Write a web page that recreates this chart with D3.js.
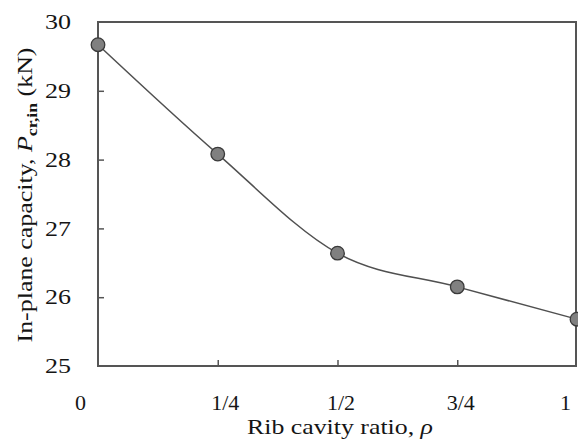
<!DOCTYPE html>
<html>
<head>
<meta charset="utf-8">
<script src="https://cdn.jsdelivr.net/npm/d3@7"></script>
<style>
  body { margin: 0; background: #fff; }
  svg { display: block; }
</style>
</head>
<body>
<div id="chart"></div>
<script>
'use strict';

// data
const rho_values = [0, 0.25, 0.5, 0.75, 1];
const capacity_kN = [29.67, 28.08, 26.64, 26.15, 25.68];
const x_tick_labels = ['0', '1/4', '1/2', '3/4', '1'];
const y_tick_values = [25, 26, 27, 28, 29, 30];

const dims = {
  width: 578,
  height: 442,
  margin: { top: 22, right: 1, bottom: 76, left: 98 }
};
dims.ctrWidth = dims.width - dims.margin.left - dims.margin.right;
dims.ctrHeight = dims.height - dims.margin.top - dims.margin.bottom;

const font = '"Liberation Serif", "Times New Roman", serif';
const frame_col = '#555';
const text_col = '#151515';

const svg = d3.select('#chart')
  .append('svg')
  .attr('width', dims.width)
  .attr('height', dims.height);

const chart_g = svg.append('g')
  .attr('transform', `translate(${dims.margin.left}, ${dims.margin.top})`);

const xScale = d3.scaleLinear().domain([0, 1]).range([0, dims.ctrWidth]);
const yScale = d3.scaleLinear().domain([25, 30]).range([dims.ctrHeight, 0]);

// tick labels (no tick marks)
const yLabels = chart_g.append('g')
  .call(d3.axisLeft(yScale).tickValues(y_tick_values).tickSize(0).tickPadding(27).tickFormat(d3.format('d')));
yLabels.select('.domain').remove();
yLabels.selectAll('text')
  .attr('textLength', 26)
  .attr('lengthAdjust', 'spacingAndGlyphs')
  .style('font-family', font)
  .style('font-size', '21px')
  .attr('fill', text_col);

// small nudges so labels sit where the original put them
const x_label_dx = [-18, 7, 3, 3, -12];
const xLabels = chart_g.append('g')
  .attr('transform', `translate(0, ${dims.ctrHeight})`)
  .call(d3.axisBottom(xScale).tickValues(rho_values).tickSize(0).tickPadding(28)
    .tickFormat((d, i) => x_tick_labels[i]));
xLabels.select('.domain').remove();
xLabels.selectAll('text')
  .attr('dx', (d, i) => x_label_dx[i])
  .style('font-family', font)
  .style('font-size', '22px')
  .attr('fill', text_col);

// inward tick marks
const yTicks = chart_g.append('g')
  .call(d3.axisLeft(yScale).tickValues(y_tick_values.slice(1, -1)).tickSizeInner(-6).tickSizeOuter(0).tickFormat(''));
yTicks.select('.domain').remove();
yTicks.selectAll('line').attr('stroke', frame_col).attr('stroke-width', 1.5);

const xTicks = chart_g.append('g')
  .attr('transform', `translate(0, ${dims.ctrHeight})`)
  .call(d3.axisBottom(xScale).tickValues(rho_values.slice(1, -1)).tickSizeInner(-6).tickSizeOuter(0).tickFormat(''));
xTicks.select('.domain').remove();
xTicks.selectAll('line').attr('stroke', frame_col).attr('stroke-width', 1.5);

// frame
chart_g.append('rect')
  .attr('x', 0)
  .attr('y', 0)
  .attr('width', dims.ctrWidth - 1)
  .attr('height', dims.ctrHeight)
  .attr('fill', 'none')
  .attr('stroke', frame_col)
  .attr('stroke-width', 2);

// line + points
const pts = rho_values.map((r, i) => ({ x: r, y: capacity_kN[i] }));

const line = d3.line()
  .x(d => xScale(d.x))
  .y(d => yScale(d.y))
  .curve(d3.curveMonotoneX);

chart_g.append('path')
  .datum(pts)
  .attr('d', line)
  .attr('fill', 'none')
  .attr('stroke', '#505050')
  .attr('stroke-width', 1.5);

chart_g.append('g')
  .selectAll('circle')
  .data(pts)
  .join('circle')
  .attr('cx', d => xScale(d.x))
  .attr('cy', d => yScale(d.y))
  .attr('r', 6.8)
  .attr('fill', '#808080')
  .attr('stroke', '#3a3a3a')
  .attr('stroke-width', 1.3);

// axis titles
svg.append('text')
  .attr('x', 340)
  .attr('y', 434)
  .attr('text-anchor', 'middle')
  .attr('textLength', 186)
  .attr('lengthAdjust', 'spacingAndGlyphs')
  .style('font-family', font)
  .style('font-size', '22px')
  .attr('fill', text_col)
  .call(t => {
    t.append('tspan').text('Rib cavity ratio, ');
    t.append('tspan').style('font-style', 'italic').text('ρ');
  });

svg.append('text')
  .attr('transform', 'translate(32, 195) rotate(-90)')
  .attr('text-anchor', 'middle')
  .attr('textLength', 295)
  .attr('lengthAdjust', 'spacingAndGlyphs')
  .style('font-family', font)
  .style('font-size', '22px')
  .attr('fill', text_col)
  .call(t => {
    t.append('tspan').text('In-plane capacity, ');
    t.append('tspan').style('font-style', 'italic').text('P');
    t.append('tspan').attr('dy', 5).style('font-size', '15px').style('font-weight', 'bold').text('cr,in');
    t.append('tspan').attr('dy', -5).text(' (kN)');
  });
</script>
</body>
</html>
